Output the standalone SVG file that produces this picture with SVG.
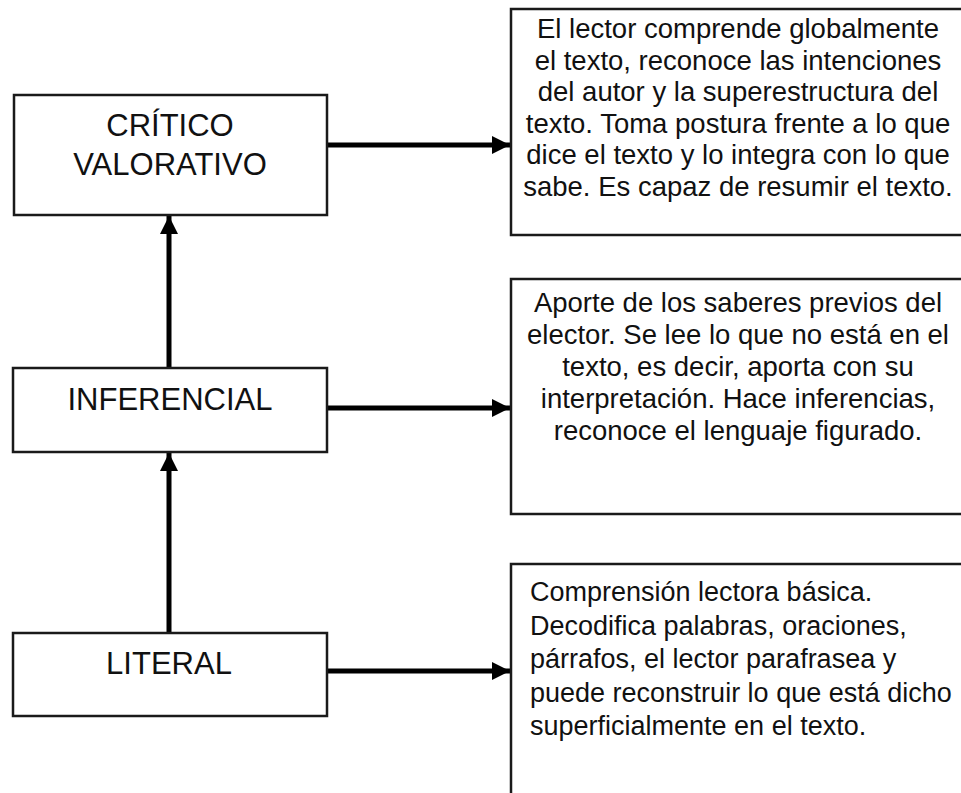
<svg xmlns="http://www.w3.org/2000/svg" width="961" height="793" viewBox="0 0 961 793">
<style>
.box{fill:#fff;stroke:#1a1a1a;stroke-width:2.5}
.lbl{font-family:"Liberation Sans",Arial,sans-serif;font-size:31px;fill:#111;text-anchor:middle}
.desc{font-family:"Liberation Sans",Arial,sans-serif;font-size:27.5px;fill:#111}
.small{font-size:27px}
.c{text-anchor:middle}
.conn{stroke:#000;stroke-width:5;fill:none}
</style>
<defs>
<marker id="ah" markerUnits="userSpaceOnUse" markerWidth="20" markerHeight="20" viewBox="0 0 20 20" refX="18" refY="10" orient="auto">
<path d="M0,1 L18,10 L0,19 Z" fill="#000"/>
</marker>
</defs>
<rect width="961" height="793" fill="#fff"/>
<g id="connectors">
<line class="conn" x1="327" y1="145" x2="510" y2="145" marker-end="url(#ah)"/>
<line class="conn" x1="327" y1="408" x2="510" y2="408" marker-end="url(#ah)"/>
<line class="conn" x1="327" y1="671" x2="510" y2="671" marker-end="url(#ah)"/>
<line class="conn" x1="169" y1="368" x2="169" y2="216" marker-end="url(#ah)"/>
<line class="conn" x1="169" y1="633" x2="169" y2="453" marker-end="url(#ah)"/>
</g>
<g id="critico">
<rect class="box" x="14" y="95" width="313" height="120"/>
<text class="lbl" x="170" y="136">CRÍTICO</text>
<text class="lbl" x="170" y="175">VALORATIVO</text>
</g>
<g id="inferencial">
<rect class="box" x="13" y="368" width="314" height="84"/>
<text class="lbl" x="170" y="410">INFERENCIAL</text>
</g>
<g id="literal">
<rect class="box" x="13" y="633" width="314" height="83"/>
<text class="lbl" x="169" y="674">LITERAL</text>
</g>
<g id="desc-critico">
<rect class="box" x="511" y="9" width="470" height="226"/>
<text class="desc c" x="738" y="38">El lector comprende globalmente</text>
<text class="desc c" x="738" y="69.5">el texto, reconoce las intenciones</text>
<text class="desc c" x="738" y="101">del autor y la superestructura del</text>
<text class="desc c" x="738" y="132.5">texto. Toma postura frente a lo que</text>
<text class="desc c" x="738" y="164">dice el texto y lo integra con lo que</text>
<text class="desc c" x="738" y="195.5">sabe. Es capaz de resumir el texto.</text>
</g>
<g id="desc-inferencial">
<rect class="box" x="511" y="279" width="470" height="235"/>
<text class="desc c" x="738" y="312">Aporte de los saberes previos del</text>
<text class="desc c" x="738" y="344">elector. Se lee lo que no está en el</text>
<text class="desc c" x="738" y="376">texto, es decir, aporta con su</text>
<text class="desc c" x="738" y="408">interpretación. Hace inferencias,</text>
<text class="desc c" x="738" y="440">reconoce el lenguaje figurado.</text>
</g>
<g id="desc-literal">
<rect class="box" x="511" y="564" width="470" height="260"/>
<text class="desc small" x="530" y="601">Comprensión lectora básica.</text>
<text class="desc small" x="530" y="635">Decodifica palabras, oraciones,</text>
<text class="desc small" x="530" y="668">párrafos, el lector parafrasea y</text>
<text class="desc small" x="530" y="702">puede reconstruir lo que está dicho</text>
<text class="desc small" x="530" y="735">superficialmente en el texto.</text>
</g>
</svg>
